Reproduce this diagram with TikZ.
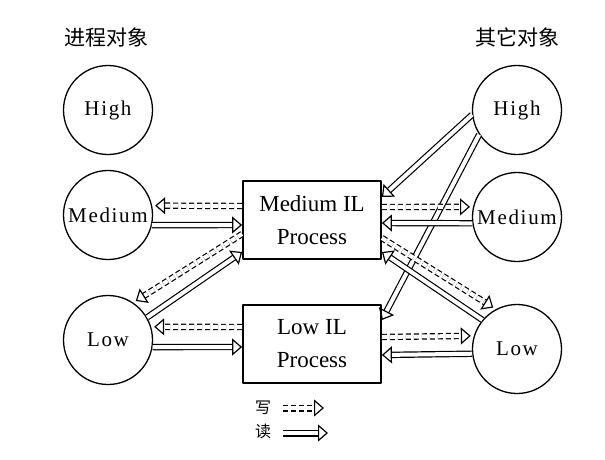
\documentclass[tikz,border=0pt]{standalone}
\usepackage{fontspec}
\setmainfont{Liberation Serif}
\newfontfamily\spaced[LetterSpace=8]{Liberation Serif}
\newfontfamily\cjk{Noto Sans CJK SC}
\usetikzlibrary{arrows.meta}

\begin{document}
\begin{tikzpicture}[x=1pt, y=-1pt, line join=round,
		obj/.style={draw, circle, line width=1.3pt, minimum size=89pt, inner sep=0pt, font=\spaced\fontsize{21}{24}\selectfont},
		proc/.style={draw, rectangle, line width=1.8pt, minimum width=138pt, minimum height=78pt, align=center, font=\fontsize{23}{33}\selectfont},
		rd/.style={double, double distance=4pt, line width=1.2pt, -{Triangle[open, length=10pt, width=17pt, line width=1.2pt]}},
		wr/.style={rd, dash pattern=on 5pt off 3pt, shorten >=3pt},
		title/.style={font=\cjk\fontsize{21}{24}\selectfont},
		legend/.style={font=\cjk\fontsize{16}{18}\selectfont}]
	\useasboundingbox (0,0) rectangle (605,459);
	\node[title] (ltitle) at (106,37) {进程对象};
	\node[title] (rtitle) at (517,37) {其它对象};
	\node[obj] (lhigh) at (108,110) {High};
	\node[obj] (lmed) at (108,215) {Medium};
	\node[obj] (llow) at (108,340) {Low};
	\node[obj] (rhigh) at (517,110) {High};
	\node[obj] (rmed) at (517,217) {Medium};
	\node[obj] (rlow) at (517,349) {Low};
	\node[proc] (mproc) at (312,220) {Medium IL\\Process};
	\node[proc] (lproc) at (312,344) {Low IL\\Process};
	% left side
	\draw[wr] ([yshift=14pt]mproc.west) -- (lmed.12);
	\draw[rd] (lmed.-13) -- ([yshift=-5pt]mproc.west);
	\draw[wr] ([yshift=-14pt]mproc.west) -- (llow.56);
	\draw[rd] (llow.30) -- ([yshift=-32pt]mproc.west);
	\draw[wr] ([yshift=17pt]lproc.west) -- (llow.17);
	\draw[rd] (llow.-9) -- ([yshift=-3pt]lproc.west);
	% right side
	\draw[rd] (rhigh.186) -- ([yshift=23pt]mproc.east);
	\draw[rd] (rhigh.213) -- ([yshift=24pt]lproc.east);
	\draw[wr] ([yshift=13pt]mproc.east) -- (rmed.167);
	\draw[rd] (rmed.188) -- ([yshift=-3pt]mproc.east);
	\draw[wr] ([yshift=-18pt]mproc.east) -- (rlow.118);
	\draw[rd] (rlow.140) -- ([yshift=-32pt]mproc.east);
	\draw[wr] ([yshift=7pt]lproc.east) -- (rlow.163);
	\draw[rd] (rlow.186) -- ([yshift=-11pt]lproc.east);
	% legend
	\node[legend] (wlab) at (263,408) {写};
	\node[legend] (rlab) at (263,431) {读};
	\coordinate (wend) at (324,408);
	\coordinate (rend) at (328,433);
	\draw[wr, shorten >=0pt, line width=1.5pt] ([xshift=8pt]wlab.east) -- (wend);
	\draw[rd, line width=1.5pt] ([xshift=8pt, yshift=-2pt]rlab.east) -- (rend);
\end{tikzpicture}
\end{document}
